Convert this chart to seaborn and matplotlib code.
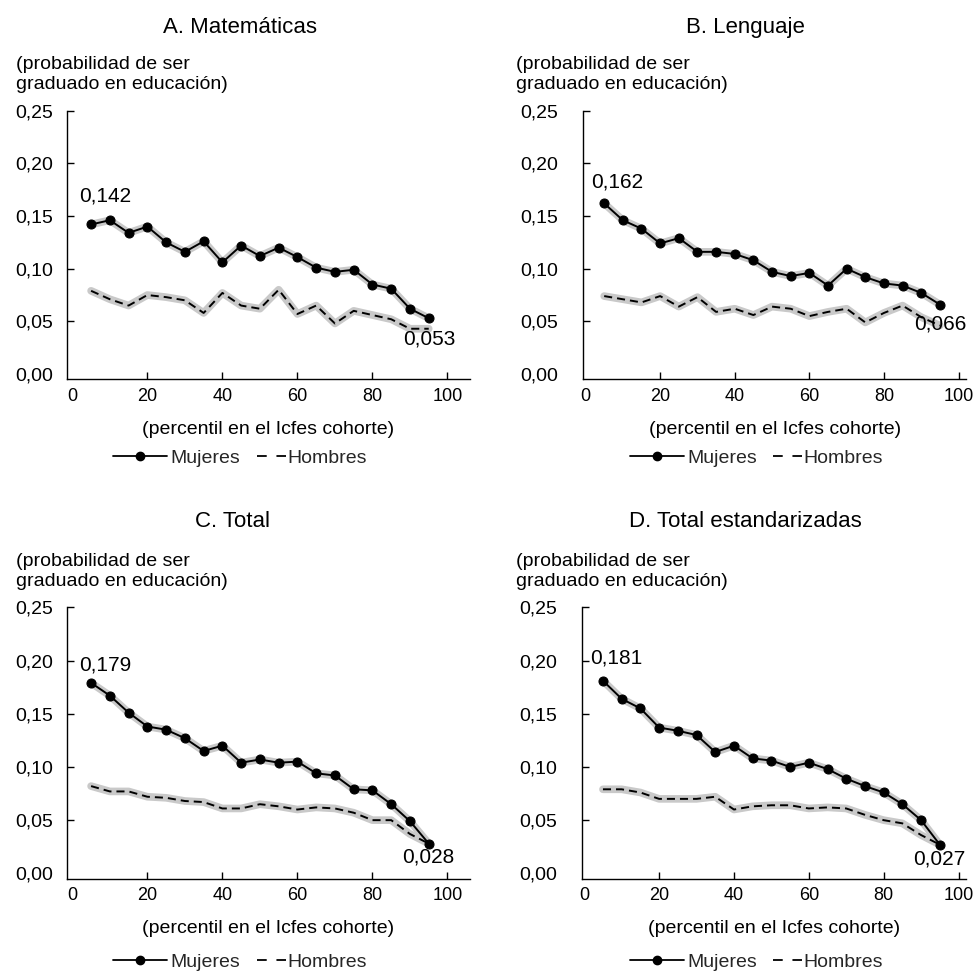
import matplotlib
matplotlib.use("Agg")
import matplotlib.pyplot as plt
import seaborn as sns
from matplotlib.lines import Line2D

# ---------------- data ----------------
pct = [5, 10, 15, 20, 25, 30, 35, 40, 45, 50, 55, 60, 65, 70, 75, 80, 85, 90, 95]

mat_muj = [0.142, 0.146, 0.134, 0.140, 0.125, 0.116, 0.126, 0.106, 0.122, 0.112,
           0.120, 0.111, 0.101, 0.097, 0.099, 0.085, 0.081, 0.062, 0.053]
mat_hom = [0.079, 0.071, 0.065, 0.075, 0.073, 0.070, 0.058, 0.077, 0.065, 0.062,
           0.080, 0.057, 0.065, 0.048, 0.060, 0.056, 0.052, 0.043, 0.043]

len_muj = [0.162, 0.146, 0.138, 0.124, 0.129, 0.116, 0.116, 0.114, 0.108, 0.097,
           0.093, 0.096, 0.084, 0.100, 0.092, 0.086, 0.084, 0.077, 0.066]
len_hom = [0.074, 0.071, 0.068, 0.074, 0.064, 0.073, 0.059, 0.062, 0.056, 0.064,
           0.062, 0.055, 0.059, 0.062, 0.049, 0.058, 0.065, 0.054, 0.046]

tot_muj = [0.179, 0.167, 0.151, 0.138, 0.135, 0.127, 0.115, 0.120, 0.104, 0.107,
           0.104, 0.105, 0.094, 0.092, 0.079, 0.078, 0.065, 0.049, 0.028]
tot_hom = [0.082, 0.077, 0.077, 0.072, 0.071, 0.068, 0.067, 0.061, 0.061, 0.065,
           0.063, 0.060, 0.062, 0.061, 0.057, 0.050, 0.050, 0.037, 0.028]

std_muj = [0.181, 0.164, 0.155, 0.137, 0.134, 0.130, 0.114, 0.120, 0.108, 0.106,
           0.100, 0.104, 0.098, 0.089, 0.082, 0.076, 0.065, 0.050, 0.027]
std_hom = [0.079, 0.079, 0.076, 0.070, 0.070, 0.070, 0.072, 0.060, 0.063, 0.064,
           0.064, 0.061, 0.062, 0.061, 0.055, 0.050, 0.047, 0.036, 0.027]

titles = ["A. Matemáticas", "B. Lenguaje", "C. Total", "D. Total estandarizadas"]
ylabel_text = "(probabilidad de ser\ngraduado en educación)"
xlabel_text = "(percentil en el Icfes cohorte)"
series_labels = ["Mujeres", "Hombres"]
yticks = [0.00, 0.05, 0.10, 0.15, 0.20, 0.25]
ytick_labels = ["0,00", "0,05", "0,10", "0,15", "0,20", "0,25"]
xticks = [0, 20, 40, 60, 80, 100]
xtick_labels = ["0", "20", "40", "60", "80", "100"]

panels = [(mat_muj, mat_hom), (len_muj, len_hom), (tot_muj, tot_hom), (std_muj, std_hom)]

# ---------------- style / layout ----------------
sns.set_theme(style="white")
plt.rcParams["font.family"] = ["Liberation Sans Narrow", "Liberation Sans", "DejaVu Sans"]
plt.rcParams["lines.scale_dashes"] = False

W, H = 976, 971
fig = plt.figure(figsize=(W / 100, H / 100), dpi=100)

# rect in pixels: left, top, right, bottom
layout = [
    dict(rect=(66.7, 110.7, 470, 379.3), xlim=(-1.5, 106), ypad=10, ylab_dx=-51,
         title_dx=173, title_dy=83, first_off=(14, 28), last_off=(1, -21),
         leg_y=458, leg1_x=113, leg2_x=257),
    dict(rect=(583.3, 110.7, 966, 379.3), xlim=(-0.6, 102), ypad=18, ylab_dx=-67,
         title_dx=162, title_dy=83, first_off=(13, 21), last_off=(0, -19),
         leg_y=458, leg1_x=630, leg2_x=773),
    dict(rect=(66.7, 607.3, 470, 878.7), xlim=(-1.5, 106), ypad=10, ylab_dx=-51,
         title_dx=166, title_dy=86, first_off=(14, 18), last_off=(0, -13),
         leg_y=962, leg1_x=113, leg2_x=257),
    dict(rect=(582, 607.3, 966, 878.7), xlim=(-0.6, 102), ypad=18, ylab_dx=-66,
         title_dx=163, title_dy=86, first_off=(13, 23), last_off=(-1, -14),
         leg_y=962, leg1_x=630, leg2_x=773),
]

FS = 14
FS_PX = FS * 100 / 72
shadow = "#c9c9c9"
dash_plot = (0, (5.8, 3.6))
dash_leg = (0, (7, 7))


def fmt(v):
    return f"{v:.3f}".replace(".", ",")


for (muj, hom), title, lay in zip(panels, titles, layout):
    l, t, r, b = lay["rect"]
    ax = fig.add_axes([l / W, 1 - b / H, (r - l) / W, (b - t) / H])

    # gray halos
    sns.lineplot(x=pct, y=hom, ax=ax, color=shadow, linewidth=5.5,
                 solid_capstyle="round", solid_joinstyle="round", legend=False)
    sns.lineplot(x=pct, y=muj, ax=ax, color=shadow, linewidth=5.5,
                 solid_capstyle="round", solid_joinstyle="round", legend=False)
    # Hombres dashed
    sns.lineplot(x=pct, y=hom, ax=ax, color="black", linewidth=1.4,
                 linestyle=dash_plot, legend=False)
    # Mujeres with markers
    sns.lineplot(x=pct, y=muj, ax=ax, color="black", linewidth=1.4,
                 marker="o", markersize=6.5, markeredgecolor="black",
                 markerfacecolor="black", legend=False)

    ax.set_xlim(*lay["xlim"])
    ax.set_ylim(-0.005, 0.25)
    ax.set_xticks(xticks)
    ax.set_xticklabels(xtick_labels)
    ax.set_yticks(yticks)
    ax.set_yticklabels(ytick_labels)
    ax.set_xlabel("")
    ax.set_ylabel("")
    for s in ["top", "right"]:
        ax.spines[s].set_visible(False)
    for s in ["left", "bottom"]:
        ax.spines[s].set_color("black")
        ax.spines[s].set_linewidth(1.0)
    ax.tick_params(axis="both", direction="in", length=5, width=1.0,
                   color="black", labelcolor="black")
    ax.tick_params(axis="y", pad=lay["ypad"], left=True, labelsize=14)
    ax.tick_params(axis="x", pad=6, bottom=True, labelsize=13)
    # no tick marks at the origin (as in the reference)
    ax.xaxis.get_major_ticks()[0].tick1line.set_visible(False)
    ax.yaxis.get_major_ticks()[0].tick1line.set_visible(False)
    ax.grid(False)
    ax.patch.set_alpha(0)

    # title
    ax.annotate(title, xy=(0, 1), xycoords="axes fraction",
                xytext=(lay["title_dx"], lay["title_dy"]), textcoords="offset pixels",
                ha="center", va="center", fontsize=16, color="black")
    # y label (two lines above axis)
    ax.annotate(ylabel_text, xy=(0, 1), xycoords="axes fraction",
                xytext=(lay["ylab_dx"], 36), textcoords="offset pixels",
                ha="left", va="center", fontsize=FS, color="black", linespacing=1.2)
    # x label
    ax.annotate(xlabel_text, xy=(0.5, 0), xycoords="axes fraction",
                xytext=(0, -50), textcoords="offset pixels",
                ha="center", va="center", fontsize=FS, color="black")

    # value labels
    ax.annotate(fmt(muj[0]), xy=(pct[0], muj[0]), xytext=lay["first_off"],
                textcoords="offset pixels", ha="center", va="center",
                fontsize=15, color="black")
    ax.annotate(fmt(muj[-1]), xy=(pct[-1], muj[-1]), xytext=lay["last_off"],
                textcoords="offset pixels", ha="center", va="center",
                fontsize=15, color="black")

    # legends
    h1 = Line2D([], [], color="black", linewidth=1.3, marker="o", markersize=6)
    h2 = Line2D([], [], color="black", linewidth=1.3, linestyle=dash_leg)
    leg1 = ax.legend([h1], [series_labels[0]], loc="center left",
                     bbox_to_anchor=(lay["leg1_x"] / W, 1 - lay["leg_y"] / H),
                     bbox_transform=fig.transFigure, frameon=False, fontsize=FS,
                     handlelength=54 / FS_PX, handletextpad=0.15, borderpad=0,
                     borderaxespad=0)
    ax.add_artist(leg1)
    ax.legend([h2], [series_labels[1]], loc="center left",
              bbox_to_anchor=(lay["leg2_x"] / W, 1 - lay["leg_y"] / H),
              bbox_transform=fig.transFigure, frameon=False, fontsize=FS,
              handlelength=29 / FS_PX, handletextpad=0.05, borderpad=0,
              borderaxespad=0)

fig.savefig("out.png", dpi=100, facecolor="white")
